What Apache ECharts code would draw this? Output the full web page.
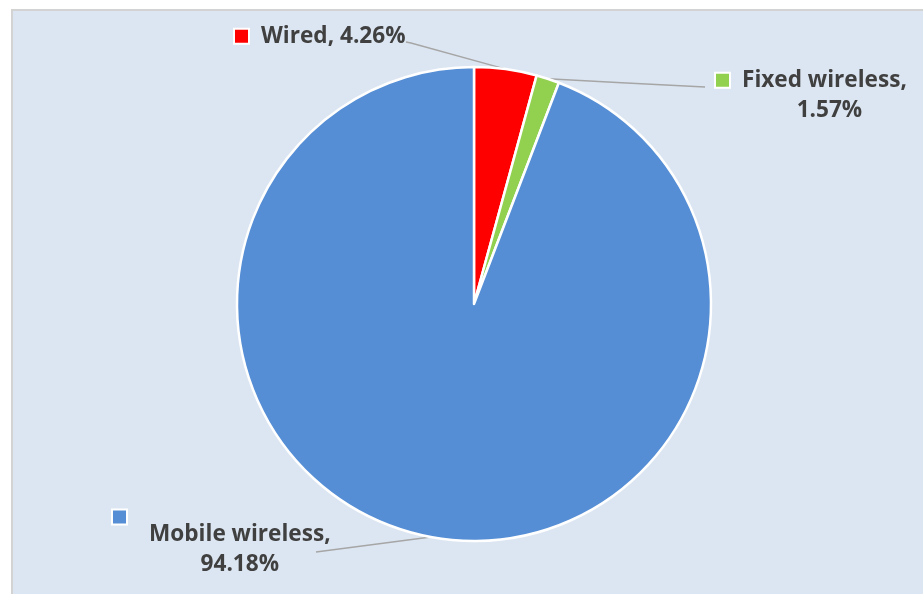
<!DOCTYPE html>
<html>
<head>
<meta charset="utf-8">
<script src="https://cdn.jsdelivr.net/npm/echarts@6/dist/echarts.min.js"></script>
<style>
  html, body { margin: 0; padding: 0; background: #ffffff; }
  #wrap { position: relative; width: 923px; height: 594px; overflow: hidden; }
  #bg { position: absolute; left: 11px; top: 9px; width: 930px; height: 600px;
        border-top: 2px solid #d3d3d3; border-left: 2px solid #d3d3d3; background: #dce6f2; }
  #chart { position: absolute; left: 0; top: 0; width: 923px; height: 594px; }
</style>
</head>
<body>
<div id="wrap"><div id="bg"></div><div id="chart"></div></div>
<script>
const categories = ['Wired', 'Fixed wireless', 'Mobile wireless'];
const values = [4.26, 1.57, 94.18];
const colors = ['#ff0000', '#92d050', '#558ed5'];

// label placement (layout only)
const labelLayouts = [
  { x: 235, y: 21, line: [[411, 43], [406, 42]] },
  { x: 716, y: 65, line: null, end: [705, 87] },
  { x: 113, y: 515, line: null, end: [316, 552] }
];

const chart = echarts.init(document.getElementById('chart'), null, { renderer: 'canvas' });

const textStyle = { fontFamily: 'Open Sans', fontWeight: 'bold', fontSize: 22.6, color: '#404040', lineHeight: 30.5 };

function richFor(i) {
  return {
    sq: { width: 13, height: 13, backgroundColor: colors[i], borderColor: '#ffffff', borderWidth: 2, align: 'left' },
    gap: { width: 13, align: 'left' },
    sp: { width: 36, align: 'left' },
    sqline: { width: 13, height: 13, backgroundColor: colors[i], borderColor: '#ffffff', borderWidth: 2, align: 'left', lineHeight: 4 },
    tl: Object.assign({ align: 'left' }, textStyle),
    tc: Object.assign({ align: 'center' }, textStyle)
  };
}

const data = categories.map((name, i) => ({
  name: name,
  value: values[i],
  itemStyle: { color: colors[i] },
  label: { rich: richFor(i) }
}));

chart.setOption({
  animation: false,
  series: [{
    type: 'pie',
    center: [474, 304],
    radius: 237,
    startAngle: 90,
    clockwise: true,
    data: data,
    itemStyle: { borderColor: '#ffffff', borderWidth: 2.5 },
    label: {
      show: true,
      position: 'outside',
      formatter: function (p) {
        const v = p.value.toFixed(2) + '%';
        if (p.dataIndex === 0) return '{sq|}{gap|}{tl|' + p.name + ', ' + v + '}';
        if (p.dataIndex === 1) return '{sq|}{gap|}{tl|' + p.name + ',}\n{sp|}{tc|' + v + '}';
        return '{sqline|}\n{sp|}{tc|' + p.name + ',}\n{sp|}{tc|' + v + '}';
      }
    },
    labelLine: { show: true, length: 20, length2: 20, lineStyle: { color: '#a6a6a6', width: 1.5 } },
    labelLayout: function (params) {
      const L = labelLayouts[params.dataIndex];
      const start = params.labelLinePoints ? params.labelLinePoints[0] : null;
      let pts;
      if (start) {
        if (L.line) pts = [start, L.line[0], L.line[1]];
        else pts = [start, [(start[0] + L.end[0]) / 2, (start[1] + L.end[1]) / 2], L.end];
      }
      const res = { x: L.x, y: L.y, align: 'left', verticalAlign: 'top' };
      if (pts) res.labelLinePoints = pts;
      return res;
    }
  }]
});
</script>
</body>
</html>
